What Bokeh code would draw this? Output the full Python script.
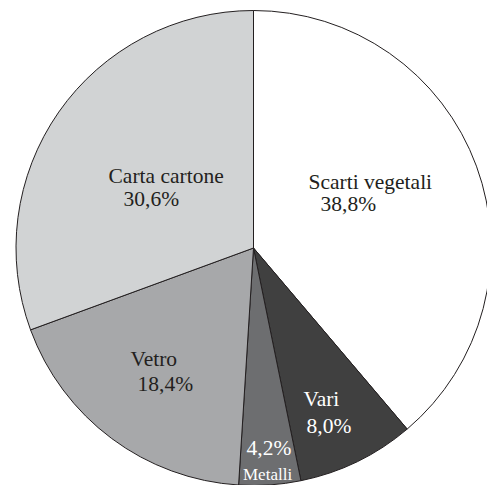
import math
from bokeh.plotting import figure
from bokeh.models import ColumnDataSource
from bokeh.core.properties import value
from bokeh.embed import file_html
from bokeh.resources import INLINE

categories = ["Scarti vegetali", "Vari", "Metalli", "Vetro", "Carta cartone"]
percent = [38.8, 8.0, 4.2, 18.4, 30.6]
pct_labels = ["38,8%", "8,0%", "4,2%", "18,4%", "30,6%"]
colors = ["#ffffff", "#404040", "#6d6e70", "#a7a8aa", "#d1d3d4"]
text_colors = ["#231f20", "#ffffff", "#ffffff", "#231f20", "#231f20"]

# layout (pixel-equivalent offsets from pie centre)
name_pos = [(55, 65.8), (50, -150.5), (-10.5, -226.5), (-123, -110.5), (-145, 72.5)]
pct_pos = [(67, 44.5), (53, -177.5), (-7, -199.5), (-116, -135.5), (-130, 49.5)]
name_size = ["21.5px", "21.5px", "17px", "21.5px", "21.5px"]

W, H = 487, 485
cx, cy = 253, 247.5
R = 237.5

total = sum(percent)
starts, ends = [], []
acc = 0.0
for v in percent:
    starts.append(math.pi / 2 - 2 * math.pi * acc / total)
    acc += v
    ends.append(math.pi / 2 - 2 * math.pi * acc / total)

src = ColumnDataSource(dict(cat=categories, start=starts, end=ends, color=colors))

p = figure(width=W, height=H, x_range=(-cx, W - cx), y_range=(-(H - cy), cy),
           output_backend="svg", toolbar_location=None, min_border=0)
p.axis.visible = False
p.grid.visible = False
p.outline_line_color = None
p.background_fill_color = "white"

p.wedge(x=0, y=0, radius=R, start_angle="start", end_angle="end", direction="clock",
        fill_color="color", line_color="#231f20", line_width=1, source=src)

lsrc = ColumnDataSource(dict(
    nx=[a for a, b in name_pos], ny=[b for a, b in name_pos], name=categories,
    px=[a for a, b in pct_pos], py=[b for a, b in pct_pos], pct=pct_labels,
    tc=text_colors, ns=name_size))

p.text(x="nx", y="ny", text="name", text_color="tc", text_font_size="ns",
       text_font=value("Liberation Serif"), text_align="left",
       text_baseline="alphabetic", source=lsrc)
p.text(x="px", y="py", text="pct", text_color="tc", text_font_size="21.5px",
       text_font=value("Liberation Serif"), text_align="left",
       text_baseline="alphabetic", source=lsrc)

open("out.html", "w").write(file_html(p, INLINE))
